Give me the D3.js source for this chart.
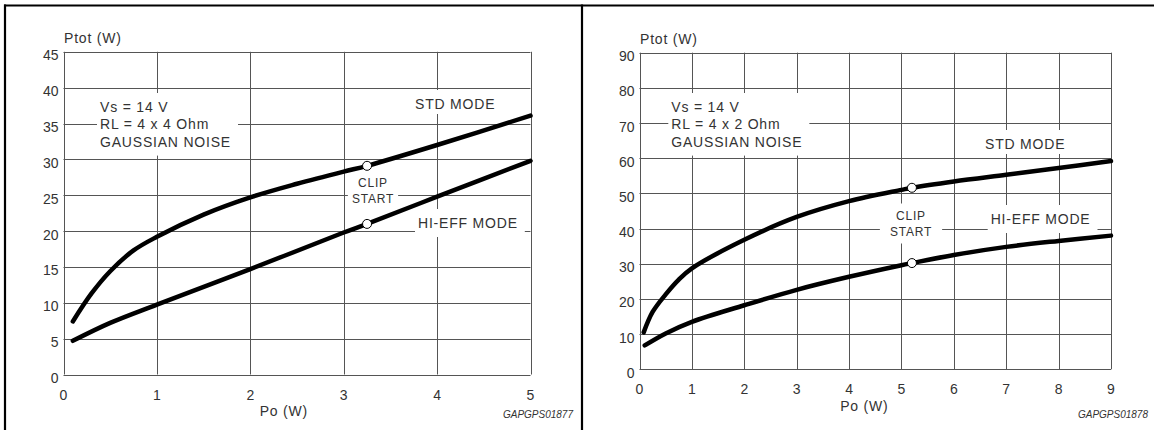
<!DOCTYPE html>
<html><head><meta charset="utf-8">
<script src="https://cdn.jsdelivr.net/npm/d3@7"></script>
<style>
html,body{margin:0;padding:0;background:#fff;}
svg{display:block;font-family:"Liberation Sans",Arial,sans-serif;}
</style></head>
<body>
<svg id="chart" width="1154" height="430"></svg>
<script>
// ---- data ----
const leftXTicks = [0, 1, 2, 3, 4, 5];
const leftYTicks = [0, 5, 10, 15, 20, 25, 30, 35, 40, 45];
const leftStdX = [0.1, 0.3, 0.5, 0.75, 1, 1.5, 2, 2.5, 3, 3.25, 4, 5];
const leftStdY = [7.4, 11.3, 14.4, 17.3, 19.2, 22.3, 24.7, 26.6, 28.3, 29.1, 32.0, 36.1];
const leftHiX = [0.1, 0.5, 1, 2, 3, 3.25, 4, 5];
const leftHiY = [4.7, 7.2, 9.75, 14.7, 19.8, 21.0, 24.8, 29.8];
const leftClipX = [3.25, 3.25];
const leftClipY = [29.1, 21.0];

const rightXTicks = [0, 1, 2, 3, 4, 5, 6, 7, 8, 9];
const rightYTicks = [0, 10, 20, 30, 40, 50, 60, 70, 80, 90];
const rightStdX = [0.08, 0.25, 0.5, 0.75, 1, 2, 3, 4, 5, 5.2, 6, 7, 8, 9];
const rightStdY = [10.5, 16.3, 21.3, 25.5, 28.7, 36.8, 43.3, 47.8, 51.0, 51.6, 53.4, 55.3, 57.2, 59.2];
const rightHiX = [0.1, 0.5, 1, 2, 3, 4, 5, 5.2, 6, 7, 8, 9];
const rightHiY = [6.8, 10.2, 13.5, 18.2, 22.6, 26.3, 29.6, 30.2, 32.5, 34.8, 36.5, 38.0];
const rightClipX = [5.2, 5.2];
const rightClipY = [51.6, 30.2];

const condLeft = ["Vs = 14 V", "RL = 4 x 4 Ohm", "GAUSSIAN NOISE"];
const condRight = ["Vs = 14 V", "RL = 4 x 2 Ohm", "GAUSSIAN NOISE"];
const clipLabel = ["CLIP", "START"];

const svg = d3.select("#chart");
const TXT = "#333";
const GRID = "#555";

// frame
svg.append("line").attr("x1", 4).attr("x2", 1154).attr("y1", 5.5).attr("y2", 5.5).attr("stroke", "#000").attr("stroke-width", 2.2);
svg.append("line").attr("x1", 5).attr("x2", 5).attr("y1", 4.5).attr("y2", 430).attr("stroke", "#000").attr("stroke-width", 2.2);
svg.append("line").attr("x1", 582).attr("x2", 582).attr("y1", 4.5).attr("y2", 430).attr("stroke", "#000").attr("stroke-width", 2.2);

function panel(cfg) {
  const g = svg.append("g");
  const x = d3.scaleLinear().domain(cfg.xDomain).range([cfg.x0, cfg.x1]);
  const y = d3.scaleLinear().domain(cfg.yDomain).range([cfg.y0, cfg.y1]);

  // grid
  const gridG = g.append("g");
  gridG.selectAll("line.h").data(cfg.yTicks).join("line")
    .attr("x1", cfg.x0).attr("x2", cfg.x1)
    .attr("y1", d => Math.round(y(d)) + 0.5).attr("y2", d => Math.round(y(d)) + 0.5)
    .attr("stroke", GRID).attr("stroke-width", 1);
  gridG.selectAll("line.v").data(cfg.xTicks).join("line")
    .attr("y1", cfg.y0).attr("y2", cfg.y1)
    .attr("x1", d => Math.round(x(d)) + 0.5).attr("x2", d => Math.round(x(d)) + 0.5)
    .attr("stroke", GRID).attr("stroke-width", 1);

  // axes tick labels
  g.selectAll("text.yt").data(cfg.yTicks).join("text")
    .attr("x", cfg.x0 - 5).attr("y", d => y(d) + 8.5)
    .attr("text-anchor", "end").attr("font-size", 14).attr("fill", TXT)
    .text(d => d);
  g.selectAll("text.xt").data(cfg.xTicks).join("text")
    .attr("x", d => x(d)).attr("y", cfg.y0 + 25)
    .attr("text-anchor", "middle").attr("font-size", 14).attr("fill", TXT)
    .text(d => d);

  const lab = (t, px, py, opts = {}) => g.append("text")
    .attr("x", px).attr("y", py)
    .attr("font-size", opts.size || 14)
    .attr("letter-spacing", opts.ls != null ? opts.ls : 0.8)
    .attr("text-anchor", opts.anchor || "start")
    .attr("font-style", opts.italic ? "italic" : null)
    .attr("fill", TXT).text(t);

  lab("Ptot (W)", cfg.x0 + 0.5, cfg.y1 - 9);
  lab("Po (W)", x(cfg.poX), cfg.y0 + 41.5);
  lab(cfg.code, cfg.codeX, 417.5, { size: 10, ls: 0, anchor: "end", italic: true });

  // annotation with white box
  function boxed(lines, px, py, step, opts) {
    const tg = g.append("g");
    const rect = tg.append("rect").attr("fill", "#fff");
    lines.forEach((t, i) => tg.append("text")
      .attr("x", px).attr("y", py + i * step)
      .attr("font-size", opts.size || 14)
      .attr("letter-spacing", 0.8)
      .attr("text-anchor", opts.anchor || "start")
      .attr("fill", TXT).text(t));
    const bb = tg.node().getBBox();
    const p = opts.pad || [4, 6, 6, 6]; // l r t b
    rect.attr("x", bb.x - p[0]).attr("y", bb.y - p[2])
      .attr("width", bb.width + p[0] + p[1]).attr("height", bb.height + p[2] + p[3]);
  }
  boxed(cfg.cond, cfg.condX, 112, 17.3, { pad: [3, 7, 6, 6] });
  boxed(["STD MODE"], cfg.stdLab[0], cfg.stdLab[1], 0, { pad: [5, 5, 6, 2] });
  boxed(["HI-EFF MODE"], cfg.hiLab[0], cfg.hiLab[1], 0, { pad: [3, 7, 6, 6] });
  boxed(clipLabel, cfg.clipLab[0], cfg.clipLab[1], 16, { size: 12, anchor: "middle", pad: [cfg.clipPad, cfg.clipPad, 5, 5] });

  // curves
  const line = d3.line().x(d => x(d[0])).y(d => y(d[1])).curve(d3.curveCatmullRom.alpha(0.5));
  [[cfg.stdX, cfg.stdY], [cfg.hiX, cfg.hiY]].forEach(([xs, ys]) => {
    g.append("path").datum(xs.map((v, i) => [v, ys[i]]))
      .attr("d", line).attr("fill", "none").attr("stroke", "#000")
      .attr("stroke-width", 4.5).attr("stroke-linecap", "round").attr("stroke-linejoin", "round");
  });
  // clip markers
  g.selectAll("circle").data(cfg.clipX.map((v, i) => [v, cfg.clipY[i]])).join("circle")
    .attr("cx", d => x(d[0])).attr("cy", d => y(d[1])).attr("r", 4.5)
    .attr("fill", "#fff").attr("stroke", "#000").attr("stroke-width", 1);
}

panel({
  xDomain: [0, 5], yDomain: [0, 45], x0: 63.5, x1: 530.5, y0: 374.5, y1: 51.8,
  xTicks: leftXTicks, yTicks: leftYTicks,
  stdX: leftStdX, stdY: leftStdY, hiX: leftHiX, hiY: leftHiY,
  clipX: leftClipX, clipY: leftClipY,
  cond: condLeft, condX: 100, stdLab: [415, 109], hiLab: [418, 228], clipLab: [373, 187.3], clipPad: 4,
  poX: 2.1, code: "GAPGPS01877", codeX: 573
});
panel({
  xDomain: [0, 9], yDomain: [0, 90], x0: 639.5, x1: 1111, y0: 369.3, y1: 52.7,
  xTicks: rightXTicks, yTicks: rightYTicks,
  stdX: rightStdX, stdY: rightStdY, hiX: rightHiX, hiY: rightHiY,
  clipX: rightClipX, clipY: rightClipY,
  cond: condRight, condX: 671.3, stdLab: [985, 149], hiLab: [990.7, 224], clipLab: [911, 219.5], clipPad: 10,
  poX: 3.83, code: "GAPGPS01878", codeX: 1148
});
</script>
</body></html>
